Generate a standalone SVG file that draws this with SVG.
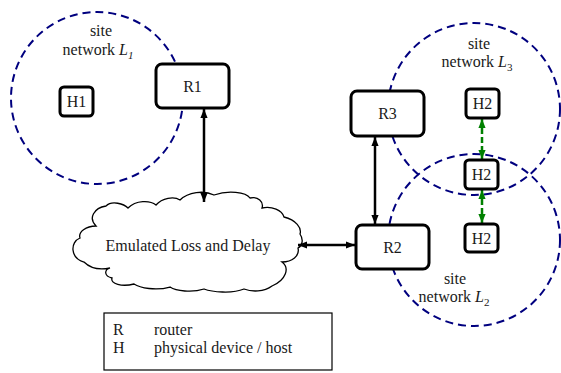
<svg xmlns="http://www.w3.org/2000/svg" width="561" height="373" viewBox="0 0 561 373">
<defs>
<style>
.site{fill:none;stroke:#00007f;stroke-width:2;stroke-dasharray:8,5}
.node{fill:#fff;stroke:#000;stroke-width:3}
.t{font-family:"Liberation Serif","Times New Roman",serif;font-size:16px;fill:#1a1a1a}
.c{text-anchor:middle}
.link{stroke:#000;stroke-width:2.5;fill:none}
.glink{stroke:#008000;stroke-width:2.5;fill:none;stroke-dasharray:6,3}
</style>
<marker id="ab" viewBox="0 0 10 10" refX="10" refY="5" markerWidth="9" markerHeight="9" markerUnits="userSpaceOnUse" orient="auto-start-reverse"><path d="M0,1 L10,5 L0,9 z" fill="#000"/></marker>
<marker id="ag" viewBox="0 0 10 10" refX="10" refY="5" markerWidth="9" markerHeight="9" markerUnits="userSpaceOnUse" orient="auto-start-reverse"><path d="M0,1 L10,5 L0,9 z" fill="#008000"/></marker>
</defs>
<rect width="561" height="373" fill="#fff"/>
<g id="siteL1">
<circle class="site" cx="97" cy="98" r="86"/>
<text class="t c" x="101" y="36">site</text>
<text class="t c" x="98" y="55">network <tspan font-style="italic">L</tspan><tspan font-style="italic" font-size="11" dy="4">1</tspan></text>
</g>
<g id="siteL3">
<circle class="site" cx="474" cy="109" r="86"/>
<text class="t c" x="479" y="49">site</text>
<text class="t c" x="477" y="67">network <tspan font-style="italic">L</tspan><tspan font-size="11" dy="4">3</tspan></text>
</g>
<g id="siteL2">
<circle class="site" cx="474" cy="240" r="86"/>
<text class="t c" x="455" y="284">site</text>
<text class="t c" x="454" y="302">network <tspan font-style="italic">L</tspan><tspan font-size="11" dy="4">2</tspan></text>
</g>
<g id="cloud">
<path d="M84,262 C70,258 70,242 80,238 C78,232 86,226 96,226 C88,218 94,208 106,206 C112,200 124,204 128,208 C136,200 150,200 156,205 C162,198 174,196 180,200 C188,192 204,190 214,195 C228,190 246,192 250,198 C258,196 264,202 262,208 C272,206 282,210 284,217 C296,220 302,228 300,234 C304,240 302,246 298,248 C300,256 292,262 282,262 C290,268 286,280 272,286 C264,292 252,292 244,289 C232,294 212,292 204,289 C192,293 176,291 170,287 C156,291 140,288 134,284 C122,287 110,284 112,278 C104,276 104,270 110,268 C100,270 90,268 84,262 Z" fill="#fff" stroke="#000" stroke-width="1.3"/>
<text class="t c" x="188" y="251">Emulated Loss and Delay</text>
</g>
<g id="connectors">
<line class="link" x1="204" y1="109" x2="204" y2="202" marker-start="url(#ab)" marker-end="url(#ab)"/>
<line class="link" x1="375" y1="137" x2="375" y2="224" marker-start="url(#ab)" marker-end="url(#ab)"/>
<line class="link" x1="298" y1="245" x2="355" y2="245" marker-start="url(#ab)" marker-end="url(#ab)"/>
<line class="glink" x1="482" y1="119" x2="482" y2="159" marker-start="url(#ag)" marker-end="url(#ag)"/>
<line class="glink" x1="482" y1="190" x2="482" y2="223" marker-start="url(#ag)" marker-end="url(#ag)"/>
</g>
<g id="R1"><rect class="node" x="156" y="64" width="73" height="44" rx="6"/><text class="t c" x="192.5" y="92">R1</text></g>
<g id="H1"><rect class="node" x="60" y="87" width="33" height="29" rx="4"/><text class="t c" x="76.5" y="107">H1</text></g>
<g id="R3"><rect class="node" x="351" y="91" width="73" height="45" rx="6"/><text class="t c" x="387.5" y="119">R3</text></g>
<g id="R2"><rect class="node" x="356" y="225" width="73" height="44" rx="6"/><text class="t c" x="392.5" y="253">R2</text></g>
<g id="H2a"><rect class="node" x="466" y="89" width="33" height="29" rx="4"/><text class="t c" x="482.5" y="109">H2</text></g>
<g id="H2b"><rect class="node" x="465" y="160" width="33" height="29" rx="4"/><text class="t c" x="481.5" y="180">H2</text></g>
<g id="H2c"><rect class="node" x="465" y="224" width="33" height="28" rx="4"/><text class="t c" x="481.5" y="244">H2</text></g>
<g id="legend">
<rect x="104" y="313" width="228" height="57" fill="#fff" stroke="#000" stroke-width="1.2"/>
<text class="t" x="113" y="335">R</text>
<text class="t" x="154" y="335">router</text>
<text class="t" x="113" y="353">H</text>
<text class="t" x="154" y="353">physical device / host</text>
</g>
</svg>
